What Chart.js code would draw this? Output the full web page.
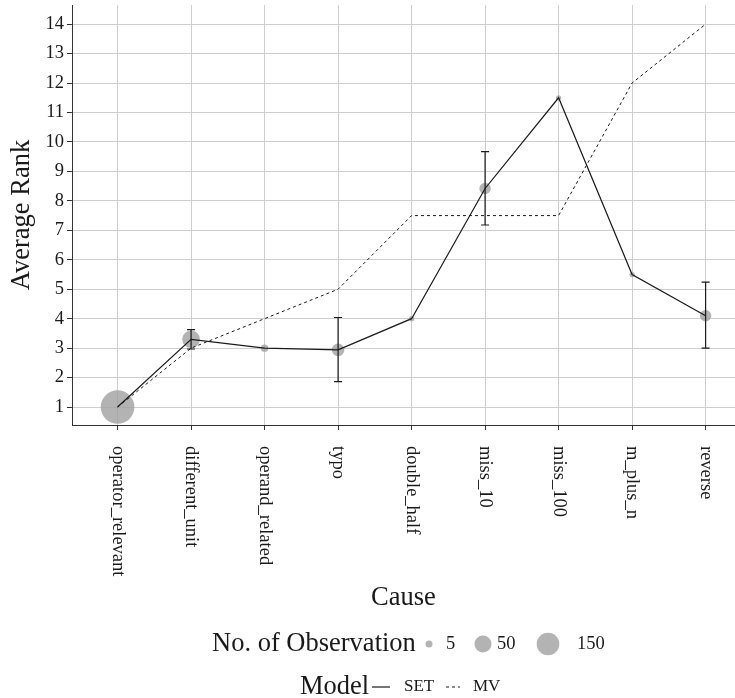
<!DOCTYPE html>
<html>
<head>
<meta charset="utf-8">
<script src="https://cdn.jsdelivr.net/npm/chart.js@4.4.1/dist/chart.umd.min.js"></script>
<style>
  html, body { margin: 0; padding: 0; background: #fff; }
  #rankChart { display: block; }
</style>
</head>
<body>
<canvas id="rankChart" width="735" height="698"></canvas>
<script>
const causes = ['operator_relevant', 'different_unit', 'operand_related', 'typo', 'double_half', 'miss_10', 'miss_100', 'm_plus_n', 'reverse'];
const setRank = [1, 3.3, 3.0, 2.94, 4.0, 8.42, 11.5, 5.5, 4.1];
const mvRank = [1, 3, 4, 5, 7.5, 7.5, 7.5, 12, 14];
const errLow = [null, 2.97, null, 1.86, null, 7.18, null, null, 3.0];
const errHigh = [null, 3.63, null, 4.04, null, 9.67, null, null, 5.24];
const obsCount = [350, 60, 7, 30, 1, 25, 1, 1, 25];
const sizeBreaks = [5, 50, 150];
const yTicks = [1, 2, 3, 4, 5, 6, 7, 8, 9, 10, 11, 12, 13, 14];

const SERIF = '"Liberation Serif", "DejaVu Serif", serif';
const INK = '#1a1a1a';
const DOT = 'rgba(160,160,160,0.8)';
const TITLE_FONT = '26.5px ' + SERIF;

const sizeKnots = [[0, 2.4], [5, 3.5], [50, 8.5], [150, 11.3], [350, 16.8]];
function radiusFor(n) {
  for (let i = 1; i < sizeKnots.length; i++) {
    const [n0, r0] = sizeKnots[i - 1];
    const [n1, r1] = sizeKnots[i];
    if (n <= n1) return r0 + (r1 - r0) * (n - n0) / (n1 - n0);
  }
  return sizeKnots[sizeKnots.length - 1][1];
}

const overlay = {
  id: 'overlay',
  afterDatasetsDraw(chart) {
    const { ctx } = chart;
    const xs = chart.scales.x, ys = chart.scales.y;
    ctx.save();
    ctx.strokeStyle = INK;
    ctx.lineWidth = 1.2;
    causes.forEach((c, i) => {
      if (errLow[i] == null) return;
      const x = xs.getPixelForValue(i);
      const y0 = ys.getPixelForValue(errLow[i]);
      const y1 = ys.getPixelForValue(errHigh[i]);
      ctx.beginPath();
      ctx.moveTo(x, y0); ctx.lineTo(x, y1);
      ctx.moveTo(x - 4, y0); ctx.lineTo(x + 4, y0);
      ctx.moveTo(x - 4, y1); ctx.lineTo(x + 4, y1);
      ctx.stroke();
    });
    ctx.restore();
  },
  afterDraw(chart) {
    const { ctx, chartArea } = chart;
    const xs = chart.scales.x;
    ctx.save();
    ctx.fillStyle = INK;

    // rotated category labels
    ctx.font = '18.5px ' + SERIF;
    ctx.textAlign = 'left';
    ctx.textBaseline = 'middle';
    causes.forEach((c, i) => {
      ctx.save();
      ctx.translate(xs.getPixelForValue(i), chartArea.bottom + 21);
      ctx.rotate(Math.PI / 2);
      ctx.fillText(c, 0, 0);
      ctx.restore();
    });

    // axis titles
    ctx.font = TITLE_FONT;
    ctx.textAlign = 'center';
    ctx.fillText('Cause', (chartArea.left + chartArea.right) / 2, 598);
    ctx.save();
    ctx.translate(22, (chartArea.top + chartArea.bottom) / 2);
    ctx.rotate(-Math.PI / 2);
    ctx.fillText('Average Rank', 0, 0);
    ctx.restore();

    // size legend
    const row1 = 644;
    ctx.textAlign = 'left';
    ctx.fillText('No. of Observation', 212, row1);
    const keyX = [429, 483, 548];
    const labX = [446, 497, 577];
    ctx.font = '18.5px ' + SERIF;
    sizeBreaks.forEach((n, i) => {
      ctx.fillStyle = DOT;
      ctx.beginPath();
      ctx.arc(keyX[i], row1, radiusFor(n), 0, Math.PI * 2);
      ctx.fill();
      ctx.fillStyle = INK;
      ctx.fillText(String(n), labX[i], row1);
    });

    // model legend
    const row2 = 687;
    ctx.font = TITLE_FONT;
    ctx.fillText('Model', 300, row2);
    ctx.strokeStyle = INK;
    ctx.lineWidth = 1.2;
    ctx.beginPath();
    ctx.moveTo(372, row2); ctx.lineTo(390, row2);
    ctx.stroke();
    ctx.setLineDash([3, 3]);
    ctx.lineWidth = 1;
    ctx.beginPath();
    ctx.moveTo(446, row2); ctx.lineTo(460, row2);
    ctx.stroke();
    ctx.setLineDash([]);
    ctx.font = '17px ' + SERIF;
    ctx.fillText('SET', 404, row2);
    ctx.fillText('MV', 473, row2);
    ctx.restore();
  }
};

const pts = (arr) => arr.map((v, i) => ({ x: i, y: v }));

new Chart(document.getElementById('rankChart'), {
  type: 'line',
  data: {
    datasets: [
      {
        label: 'SET',
        data: pts(setRank),
        borderColor: INK,
        borderWidth: 1.2,
        pointRadius: 0,
        tension: 0,
        fill: false,
      },
      {
        label: 'MV',
        data: pts(mvRank),
        borderColor: INK,
        borderWidth: 1,
        borderDash: [3, 3],
        pointRadius: 0,
        tension: 0,
        fill: false,
      },
      {
        type: 'scatter',
        label: 'No. of Observation',
        data: pts(setRank),
        pointRadius: obsCount.map(radiusFor),
        pointBackgroundColor: DOT,
        pointBorderWidth: 0,
        showLine: false,
      },
    ],
  },
  options: {
    responsive: false,
    devicePixelRatio: 1,
    animation: false,
    events: [],
    layout: { autoPadding: false, padding: { top: 5, right: 0, left: 0, bottom: 0 } },
    plugins: {
      legend: { display: false },
      tooltip: { enabled: false },
    },
    scales: {
      x: {
        type: 'linear',
        min: -0.62,
        max: 8.4,
        afterBuildTicks: (s) => { s.ticks = causes.map((c, i) => ({ value: i })); },
        afterFit: (s) => { s.height = 273; s.paddingLeft = 0; s.paddingRight = 0; },
        ticks: { autoSkip: false, maxRotation: 0, callback: () => '' },
        grid: { color: '#cfcfcf', lineWidth: 1, tickLength: 5, tickColor: '#333' },
        border: { color: '#333', width: 1 },
      },
      y: {
        min: 0.39,
        max: 14.65,
        afterBuildTicks: (s) => { s.ticks = yTicks.map((v) => ({ value: v })); },
        afterFit: (s) => { s.width = 72; s.paddingTop = 0; s.paddingBottom = 0; },
        ticks: { color: INK, padding: 3, font: { family: SERIF, size: 18.5 } },
        grid: { color: '#cfcfcf', lineWidth: 1, tickLength: 5, tickColor: '#333' },
        border: { color: '#333', width: 1 },
      },
    },
  },
  plugins: [overlay],
});
</script>
</body>
</html>
